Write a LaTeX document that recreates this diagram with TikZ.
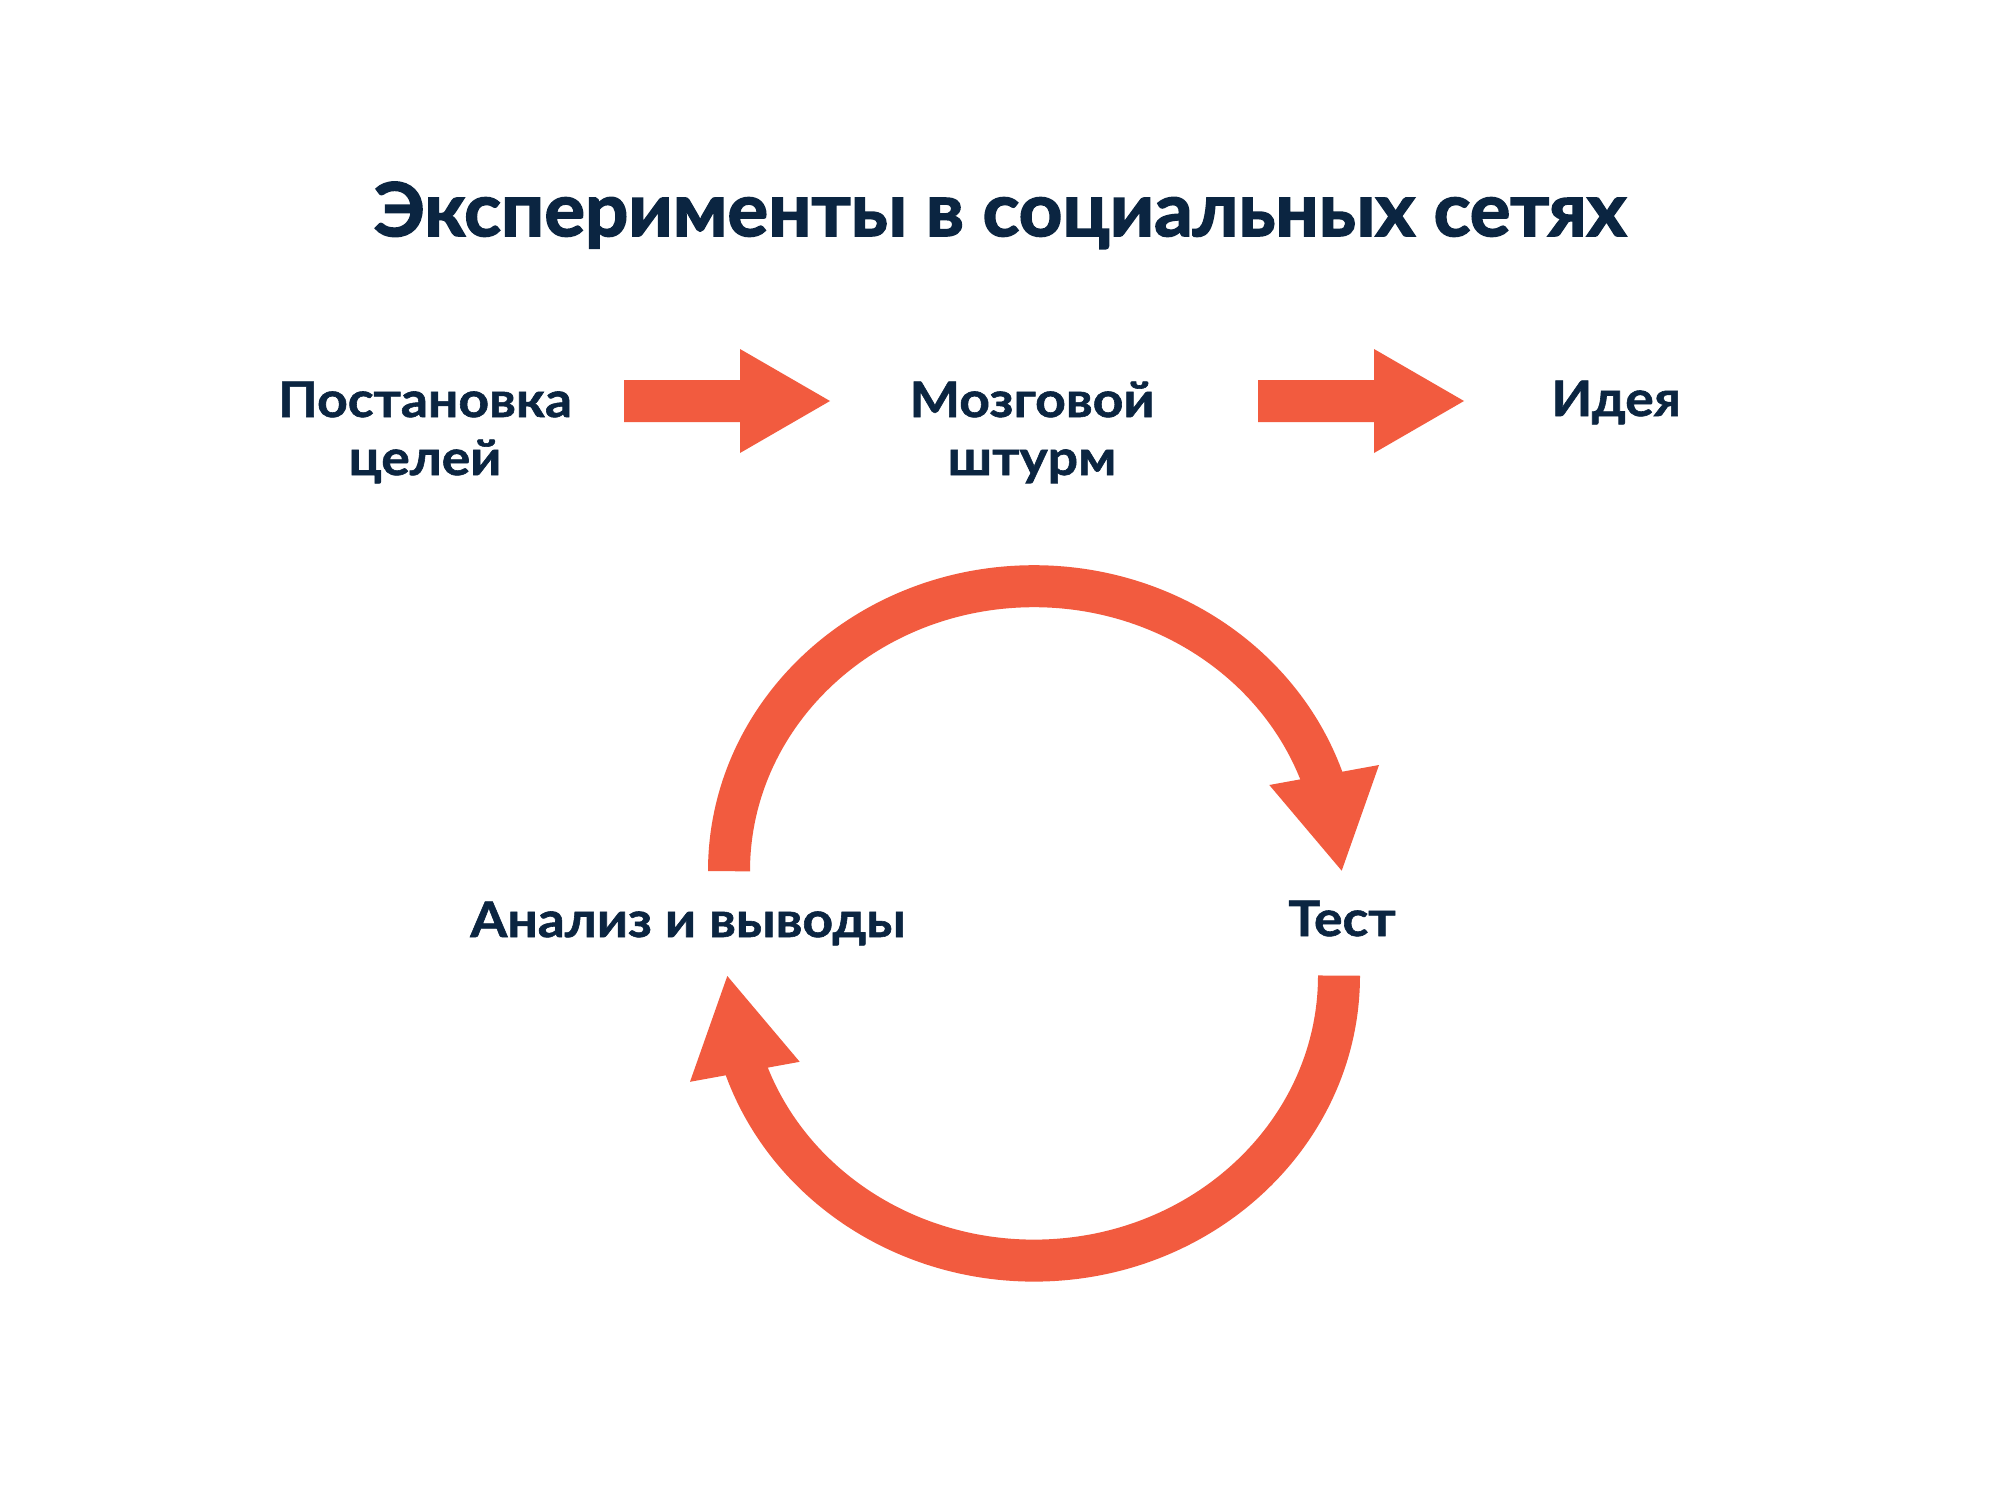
\documentclass[tikz,border=0pt]{standalone}
\usepackage{fontspec}
\setmainfont{Lato}
\newfontfamily\lblfont{Lato}[BoldFeatures={FakeStretch=1.09,FakeBold=1.2}]
\newfontfamily\ttlfont{Lato}[BoldFeatures={FakeStretch=1.03,FakeBold=2.2}]
\definecolor{ink}{HTML}{0B2541}
\definecolor{accent}{HTML}{F25B3F}
\begin{document}
\begin{tikzpicture}[x=1pt,y=-1pt,
  lbl/.style={anchor=base,inner sep=0pt,text=ink,font=\lblfont\fontsize{49}{58}\selectfont\bfseries},
  ttl/.style={anchor=base,inner sep=0pt,text=ink,font=\ttlfont\fontsize{74}{88}\selectfont\bfseries},
  band/.style={draw=accent,line width=42pt},
  head/.style={fill=accent,draw=none}]
\useasboundingbox[fill=white] (0,0) rectangle (2000,1496);

\node[ttl] (title) at (1000,236) {Эксперименты в социальных сетях};

\node[lbl] (goals) at (425,417) {\setlength{\tabcolsep}{0pt}\begin{tabular}[t]{c}Постановка\\целей\end{tabular}};
\node[lbl] (brain) at (1032,417) {\setlength{\tabcolsep}{0pt}\begin{tabular}[t]{c}Мозговой\\штурм\end{tabular}};
\node[lbl] (idea) at (1616,416) {Идея};
\node[lbl] (analysis) at (688,937) {Анализ и выводы};
\node[lbl] (test) at (1342,936) {Тест};

% straight arrows
\coordinate (a1) at (624,401);
\coordinate (a2) at (1258,401);
\foreach \a in {a1,a2}{
  \fill[accent] (\a) ++(0,-21) -- ++(116,0) -- ++(0,-31) -- ++(90,52) -- ++(-90,52) -- ++(0,-31) -- ++(-116,0) -- cycle;
}

% cycle arrows
\coordinate (cu) at (1034,871.2);
\coordinate (cl) at (1034,975.6);
\draw[band] (cu) ++(180:305 and 285) arc[start angle=180,end angle=342,x radius=305,y radius=285];
\draw[band] (cl) ++(0:305 and 285) arc[start angle=0,end angle=162,x radius=305,y radius=285];
\coordinate (tipT) at (1341.7,870.7);
\coordinate (tipA) at (727.3,976);
\fill[head] (tipT) -- (1269.3,785) -- (1379,765) -- cycle;
\fill[head] (tipA) -- (799.7,1061.8) -- (690,1081.8) -- cycle;
\end{tikzpicture}
\end{document}
